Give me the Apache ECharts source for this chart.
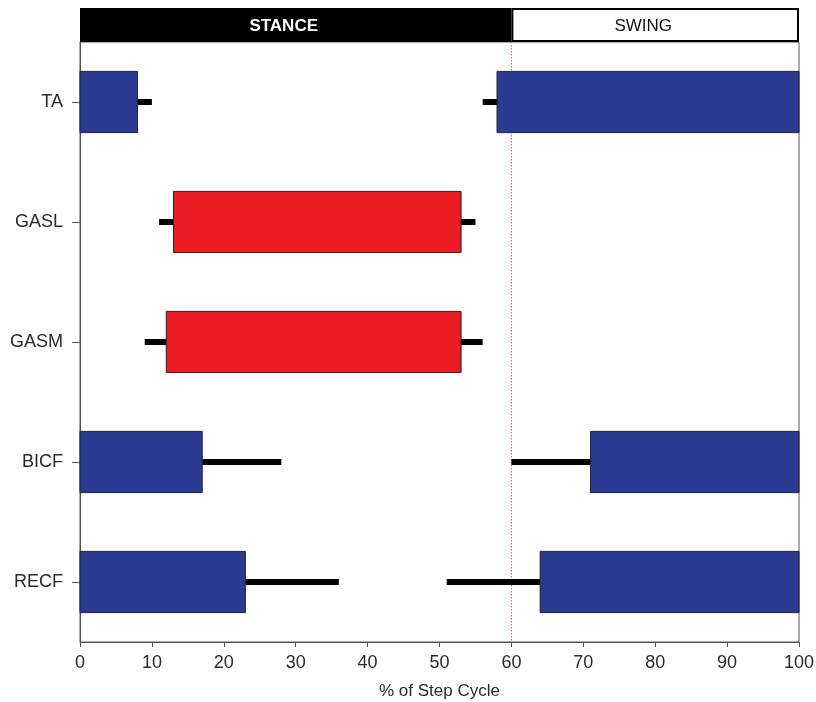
<!DOCTYPE html>
<html>
<head>
<meta charset="utf-8">
<script src="https://cdn.jsdelivr.net/npm/echarts@6/dist/echarts.min.js"></script>
<style>
  html, body { margin: 0; padding: 0; background: #fff; }
  #chart { width: 816px; height: 702px; }
</style>
</head>
<body>
<div id="chart"></div>
<script>
// Muscles, listed top to bottom
const muscles = ['TA', 'GASL', 'GASM', 'BICF', 'RECF'];

// EMG bursts (% of step cycle): muscle, onset, offset
const burstMuscle = ['TA', 'TA', 'GASL', 'GASM', 'BICF', 'BICF', 'RECF', 'RECF'];
const burstOn     = [0,    58,   13,     12,     0,      71,     0,      64];
const burstOff    = [8,    100,  53,     53,     17,     100,    23,     100];
// Error whiskers: earliest onset and latest offset (null = none)
const onsetErr    = [null, 56,   11,     9,      null,   60,     null,   51];
const offsetErr   = [10,   null, 55,     56,     28,     null,   36,     null];

// Step-cycle phases
const phaseNames = ['STANCE', 'SWING'];
const phaseStart = [0, 60];
const phaseEnd   = [60, 100];

// Stance / swing transition
const transition = [60];

const xTicks = [0, 10, 20, 30, 40, 50, 60, 70, 80, 90, 100];

const FONT = '"Liberation Sans", Arial, Helvetica, sans-serif';
const BLUE = '#2b3a92';
const RED = '#ec1c24';

function burstColor(m) {
  return m.indexOf('GAS') === 0 ? RED : BLUE;
}

const burstData = burstMuscle.map((m, i) => [burstOn[i], burstOff[i], muscles.indexOf(m)]);

const chart = echarts.init(document.getElementById('chart'), null, { renderer: 'canvas' });

chart.setOption({
  animation: false,
  backgroundColor: '#fff',
  grid: [
    { left: 80, right: 17, top: 42, bottom: 60, show: true, borderColor: '#555', borderWidth: 1,
      containLabel: false, outerBoundsMode: 'none' },
    { left: 80, right: 17, top: 8, height: 34, containLabel: false, outerBoundsMode: 'none' }
  ],
  xAxis: [
    {
      gridIndex: 0, type: 'value', min: 0, max: 100, interval: 10,
      splitLine: { show: false },
      axisLine: { show: true, lineStyle: { color: '#555', width: 1 } },
      axisTick: { show: true, length: 5, lineStyle: { color: '#555' } },
      axisLabel: { margin: 12, color: '#2a2a2a', fontSize: 18, fontFamily: FONT,
        formatter: v => (xTicks.indexOf(v) >= 0 ? String(v) : '') },
      name: '% of Step Cycle', nameLocation: 'middle', nameGap: 41,
      nameTextStyle: { color: '#2a2a2a', fontSize: 17, fontFamily: FONT }
    },
    { gridIndex: 1, type: 'value', min: 0, max: 100, show: false }
  ],
  yAxis: [
    {
      gridIndex: 0, type: 'category', data: muscles, inverse: true,
      axisLine: { show: true, lineStyle: { color: '#555', width: 1 } },
      axisTick: { show: true, alignWithLabel: true, length: 8, lineStyle: { color: '#555' } },
      axisLabel: { margin: 17, color: '#2a2a2a', fontSize: 18, fontFamily: FONT },
      splitLine: { show: false }
    },
    { gridIndex: 1, type: 'category', data: ['phase'], show: false }
  ],
  series: [
    {
      // dotted marker at the stance/swing transition
      type: 'custom', xAxisIndex: 0, yAxisIndex: 0, z: 1, silent: true,
      data: transition.map(v => [v, 0]),
      encode: { x: 0, y: 1 },
      renderItem: function (params, api) {
        const cs = params.coordSys;
        const x = api.coord([api.value(0), 0])[0];
        return {
          type: 'line',
          shape: { x1: x, y1: cs.y, x2: x, y2: cs.y + cs.height },
          style: { stroke: '#f05a5a', lineWidth: 1, lineDash: [1.5, 1.5] }
        };
      }
    },
    {
      // burst bars with whiskers
      type: 'custom', xAxisIndex: 0, yAxisIndex: 0, z: 3, silent: true,
      data: burstData,
      encode: { x: [0, 1], y: 2 },
      renderItem: function (params, api) {
        const i = params.dataIndex;
        const cat = api.value(2);
        const p0 = api.coord([api.value(0), cat]);
        const p1 = api.coord([api.value(1), cat]);
        const h = api.size([0, 1])[1] * 0.51;
        const yc = p0[1];
        const children = [];
        if (onsetErr[i] !== null) {
          const e = api.coord([onsetErr[i], cat]);
          children.push({ type: 'line', shape: { x1: e[0], y1: yc, x2: p0[0], y2: yc },
            style: { stroke: '#000', lineWidth: 6, lineCap: 'butt' } });
        }
        if (offsetErr[i] !== null) {
          const e = api.coord([offsetErr[i], cat]);
          children.push({ type: 'line', shape: { x1: p1[0], y1: yc, x2: e[0], y2: yc },
            style: { stroke: '#000', lineWidth: 6, lineCap: 'butt' } });
        }
        children.push({
          type: 'rect',
          shape: { x: p0[0], y: yc - h / 2, width: p1[0] - p0[0], height: h },
          style: { fill: burstColor(burstMuscle[i]), stroke: '#222', lineWidth: 1 }
        });
        return { type: 'group', children: children };
      }
    },
    {
      // phase header
      type: 'custom', xAxisIndex: 1, yAxisIndex: 1, z: 5, silent: true,
      data: phaseNames.map((n, i) => [phaseStart[i], phaseEnd[i], 0]),
      encode: { x: [0, 1], y: 2 },
      renderItem: function (params, api) {
        const i = params.dataIndex;
        const cs = params.coordSys;
        const x0 = api.coord([api.value(0), 0])[0];
        const x1 = api.coord([api.value(1), 0])[0];
        const dark = i === 0;
        return {
          type: 'group',
          children: [
            {
              type: 'rect',
              shape: dark
                ? { x: x0, y: cs.y, width: x1 - x0, height: cs.height }
                : { x: x0 + 1, y: cs.y + 1, width: x1 - x0 - 2, height: cs.height - 2 },
              style: { fill: dark ? '#000' : '#fff', stroke: '#000', lineWidth: dark ? 0 : 2 }
            },
            {
              type: 'text',
              style: {
                text: phaseNames[i],
                x: (x0 + x1) / 2 - 12, y: cs.y + cs.height / 2 + 1,
                align: 'center', verticalAlign: 'middle',
                fill: dark ? '#fff' : '#111',
                font: (dark ? 'bold ' : '') + '17px ' + FONT
              }
            }
          ]
        };
      }
    }
  ]
});
</script>
</body>
</html>
